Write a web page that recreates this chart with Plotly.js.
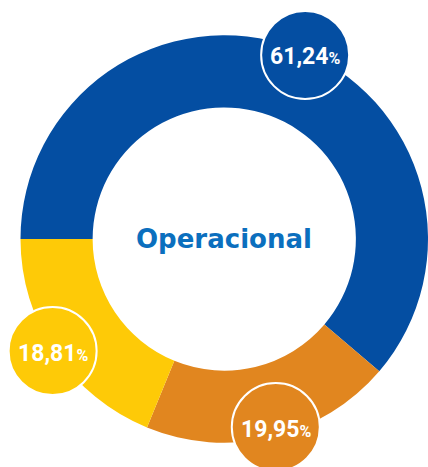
<!DOCTYPE html>
<html>
<head>
<meta charset="utf-8">
<script src="https://cdn.plot.ly/plotly-3.0.1.min.js"></script>
<style>html,body{margin:0;padding:0;background:#fff;}#chart{width:428px;height:467px;}</style>
</head>
<body>
<div id="chart"></div>
<script>
// Data
var categories = ["Azul", "Laranja", "Amarelo"];
var values = [61.24, 19.95, 18.81];
var valueLabels = ["61,24", "19,95", "18,81"];
var colors = ["#044EA2", "#E1861F", "#FECA07"];
var centerLabel = "Operacional";

// Layout / styling
var W = 428, H = 467;
var domX = [20.5 / W, 1];
var domY = [24 / H, 432 / H];
var rotation = -90;
var labelAngleNudge = [3.5, -1.7, 0.7];   // degrees, placement tweak of badges
var labelRadius = [201, 195, 205];        // px from pie center
var circR = 44;

var cxPx = (domX[0] + domX[1]) / 2 * W;
var cyPx = H - (domY[0] + domY[1]) / 2 * H;

var total = values.reduce(function (a, b) { return a + b; }, 0);
var shapes = [], annotations = [];
var acc = 0;
for (var i = 0; i < values.length; i++) {
  var mid = rotation + (acc + values[i] / 2) / total * 360 + labelAngleNudge[i];
  acc += values[i];
  var a = mid * Math.PI / 180;
  var px = cxPx + labelRadius[i] * Math.sin(a);
  var py = cyPx - labelRadius[i] * Math.cos(a);
  var xp = px / W, yp = 1 - py / H;
  shapes.push({
    type: "circle", xref: "paper", yref: "paper",
    xsizemode: "pixel", ysizemode: "pixel",
    xanchor: xp, yanchor: yp,
    x0: -circR, x1: circR, y0: -circR, y1: circR,
    fillcolor: colors[i], line: {color: "#ffffff", width: 2}, layer: "above"
  });
  annotations.push({
    xref: "paper", yref: "paper", x: xp, y: yp - 2 / H,
    xanchor: "center", yanchor: "middle", showarrow: false,
    text: "<b>" + valueLabels[i] + "<span style='font-size:16px'>%</span></b>",
    font: {family: "Roboto, sans-serif", size: 23, color: "#ffffff"}
  });
}
annotations.push({
  xref: "paper", yref: "paper",
  x: (domX[0] + domX[1]) / 2, y: (domY[0] + domY[1]) / 2,
  xanchor: "center", yanchor: "middle", showarrow: false,
  text: "<b>" + centerLabel + "</b>",
  font: {family: "DejaVu Sans, sans-serif", size: 26, color: "#0B6FBE"}
});

var trace = {
  type: "pie",
  labels: categories,
  values: values,
  hole: 0.646,
  sort: false,
  direction: "clockwise",
  rotation: rotation,
  marker: {colors: colors, line: {width: 0}},
  textinfo: "none",
  hoverinfo: "skip",
  domain: {x: domX, y: domY}
};

var layout = {
  width: W, height: H,
  margin: {l: 0, r: 0, t: 0, b: 0},
  paper_bgcolor: "#ffffff",
  showlegend: false,
  shapes: shapes,
  annotations: annotations
};

Plotly.newPlot("chart", [trace], layout, {displayModeBar: false, staticPlot: true});
</script>
</body>
</html>
